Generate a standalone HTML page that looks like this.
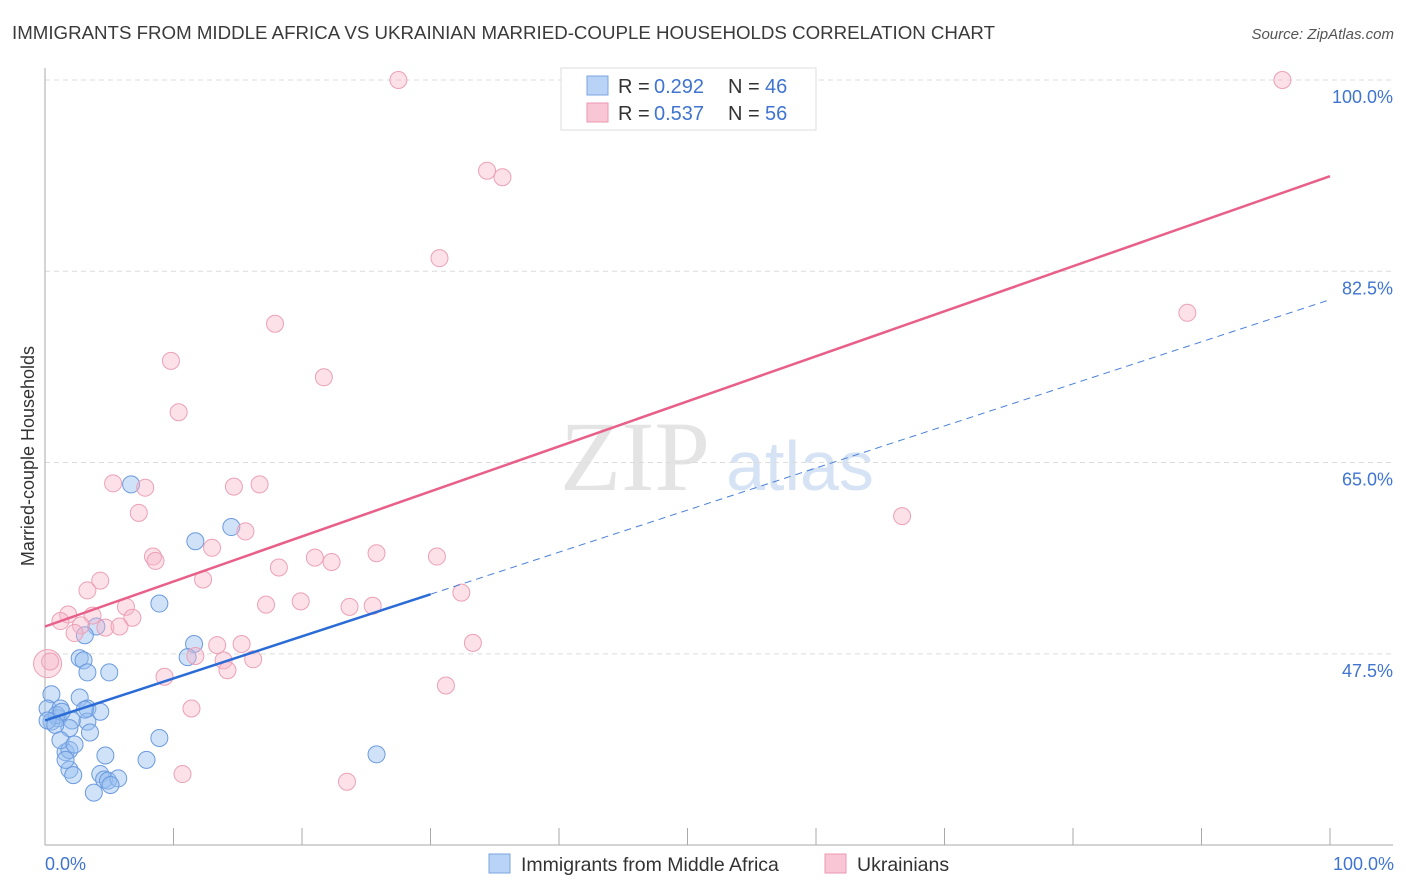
<!DOCTYPE html>
<html><head><meta charset="utf-8"><style>
body{margin:0;background:#fff;font-family:"Liberation Sans",sans-serif;}
svg{display:block}
</style></head><body>
<svg id="chart" width="1406" height="892" xmlns="http://www.w3.org/2000/svg">
<text x="12" y="39" font-size="18.5" fill="#3a3a3a" textLength="983" lengthAdjust="spacingAndGlyphs">IMMIGRANTS FROM MIDDLE AFRICA VS UKRAINIAN MARRIED-COUPLE HOUSEHOLDS CORRELATION CHART</text>
<text x="1394" y="39" font-size="15" fill="#555" text-anchor="end" font-style="italic">Source: ZipAtlas.com</text>
<g>
<text x="635" y="490" font-family="Liberation Serif,serif" font-size="100" fill="#e4e4e4" text-anchor="middle">ZIP</text>
<text x="800" y="490" font-size="70" fill="#d5e3f5" text-anchor="middle">atlas</text>
</g>
<g id="grid"></g>
<g id="axes"></g>
<g id="marks"></g>
<text transform="translate(34,456) rotate(-90)" font-size="18" fill="#333" text-anchor="middle">Married-couple Households</text>
<text x="45" y="870" font-size="18" fill="#3f74d0">0.0%</text>
<text x="1394" y="870" font-size="18" fill="#3f74d0" text-anchor="end">100.0%</text>
<g>
<rect x="561" y="68" width="255" height="62" fill="#fff" stroke="#ddd"/>
<rect x="587" y="76" width="21" height="19" fill="#b8d3f5" stroke="#7aa6e0"/>
<rect x="587" y="103" width="21" height="19" fill="#f9c6d5" stroke="#ec97b1"/>
<text x="618" y="93" font-size="20" fill="#333">R =</text>
<text x="654" y="93" font-size="20" fill="#3f74d0">0.292</text>
<text x="728" y="93" font-size="20" fill="#333">N =</text>
<text x="765" y="93" font-size="20" fill="#3f74d0">46</text>
<text x="618" y="120" font-size="20" fill="#333">R =</text>
<text x="654" y="120" font-size="20" fill="#3f74d0">0.537</text>
<text x="728" y="120" font-size="20" fill="#333">N =</text>
<text x="765" y="120" font-size="20" fill="#3f74d0">56</text>
</g>
<g>
<rect x="489" y="854" width="21" height="19" fill="#b8d3f5" stroke="#7aa6e0"/>
<text x="521" y="871" font-size="19.5" fill="#333">Immigrants from Middle Africa</text>
<rect x="825" y="854" width="21" height="19" fill="#f9c6d5" stroke="#ec97b1"/>
<text x="857" y="871" font-size="19.5" fill="#333">Ukrainians</text>
</g>
</svg>
<script>
const yTicks=[100,82.5,65,47.5];
const yTickLabels=["100.0%","82.5%","65.0%","47.5%"];
const xTicks=[0,10,20,30,40,50,60,70,80,90,100];
const blueX=[6.7,14.5,11.7,8.9,4.0,3.1,2.7,3.0,3.3,5.0,11.6,11.1,0.5,2.7,0.2,1.2,3.3,4.3,1.0,2.1,3.3,0.5,1.9,3.5,8.9,1.6,1.9,4.7,7.9,25.8,1.9,2.2,4.3,4.6,4.9,5.7,3.8,0.9,1.3,0.2,3.1,0.8,1.2,2.3,1.6,5.1];
const blueY=[63.0,59.1,57.8,52.1,50.0,49.2,47.1,46.9,45.8,45.8,48.4,47.2,43.8,43.5,42.5,42.5,42.5,42.2,41.6,41.4,41.3,41.3,40.7,40.3,39.8,38.5,38.7,38.2,37.8,38.3,36.9,36.4,36.5,36.0,35.9,36.1,34.8,41.9,42.2,41.4,42.4,41.0,39.6,39.2,37.8,35.5];
const pinkX=[27.5,96.3,34.4,35.6,30.7,17.9,88.9,9.8,21.7,10.4,5.3,7.8,14.7,16.7,7.3,15.6,66.7,13.0,8.4,8.6,25.8,30.5,21.0,22.3,18.2,4.3,12.3,3.3,32.4,19.9,17.2,23.7,25.5,6.3,1.8,3.7,1.2,6.8,2.8,2.3,4.7,5.8,33.3,13.4,15.3,11.7,13.9,16.2,14.2,9.3,11.4,31.2,10.7,23.5,0.2,0.4];
const pinkY=[100,100,91.7,91.1,83.7,77.7,78.7,74.3,72.8,69.6,63.1,62.7,62.8,63.0,60.4,58.7,60.1,57.2,56.4,56.0,56.7,56.4,56.3,55.9,55.4,54.2,54.3,53.3,53.1,52.3,52.0,51.8,51.9,51.8,51.1,51.0,50.5,50.8,50.1,49.4,49.9,50.0,48.5,48.3,48.4,47.3,46.9,47.0,46.0,45.4,42.5,44.6,36.5,35.8,46.6,46.8];
const pinkBig=[54];
const blueTrend=[41.4,79.9];
const blueSolidEnd=30;
const pinkTrend=[50.0,91.2];
const NS="http://www.w3.org/2000/svg";
const X=v=>45+v*12.85;
const Y=v=>80+(100-v)*10.93;
function mk(t,a,p){const e=document.createElementNS(NS,t);for(const k in a)e.setAttribute(k,a[k]);p.appendChild(e);return e;}
const grid=document.getElementById('grid'),axes=document.getElementById('axes'),marks=document.getElementById('marks');
yTicks.forEach((v,i)=>{
 const l=mk('line',{x1:45,x2:1393,y1:Y(v),y2:Y(v),stroke:'#dcdcdc','stroke-dasharray':'5,4'},grid);
 
 
 const t=mk('text',{x:1393,y:Y(v)+23,'font-size':18,fill:'#3f74d0','text-anchor':'end'},grid);
 t.textContent=yTickLabels[i];
 
 
});
const ya=mk('line',{x1:45,x2:45,y1:68,y2:845,stroke:'#aaa'},axes);


const xa=mk('line',{x1:45,x2:1393,y1:845,y2:845,stroke:'#aaa'},axes);


xTicks.forEach(v=>{
 const t=mk('line',{x1:X(v),x2:X(v),y1:828,y2:845,stroke:'#aaa'},axes);
 
 
});
blueX.forEach((x,i)=>{
 const c=mk('circle',{cx:X(x),cy:Y(blueY[i]),r:8.5,fill:'rgba(150,190,240,0.45)',stroke:'#6b9ade','stroke-width':1},marks);
 
 
});
pinkX.forEach((x,i)=>{
 const c=mk('circle',{cx:X(x),cy:Y(pinkY[i]),r:pinkBig.includes(i)?14:8.5,fill:'rgba(248,180,200,0.4)',stroke:'#eca0b6','stroke-width':1},marks);
 
 
});
const by=x=>blueTrend[0]+(blueTrend[1]-blueTrend[0])*x/100;
const bl=mk('line',{x1:X(0),y1:Y(by(0)),x2:X(blueSolidEnd),y2:Y(by(blueSolidEnd)),stroke:'#2a6bd6','stroke-width':2.5},marks);


const bd=mk('line',{x1:X(blueSolidEnd),y1:Y(by(blueSolidEnd)),x2:X(100),y2:Y(by(100)),stroke:'#4a80d8','stroke-width':1,'stroke-dasharray':'7,5'},marks);


const pl=mk('line',{x1:X(0),y1:Y(pinkTrend[0]),x2:X(100),y2:Y(pinkTrend[1]),stroke:'#e8608a','stroke-width':2.5},marks);


</script>
</body></html>
